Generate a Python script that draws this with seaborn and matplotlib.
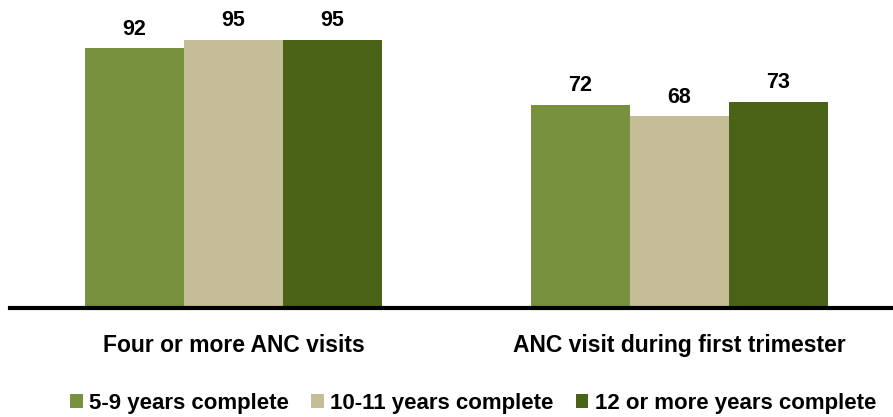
import pandas as pd
import numpy as np
import matplotlib.pyplot as plt
import seaborn as sns

categories = ["Four or more ANC visits", "ANC visit during first trimester"]
education = ["5-9 years complete", "10-11 years complete", "12 or more years complete"]
values = {
    "5-9 years complete": [92, 72],
    "10-11 years complete": [95, 68],
    "12 or more years complete": [95, 73],
}
colors = ["#77913F", "#C4BD97", "#4B6316"]

rows = []
for edu in education:
    for cat, v in zip(categories, values[edu]):
        rows.append({"indicator": cat, "education": edu, "pct": v})
df = pd.DataFrame(rows)

sns.set_style("white")
plt.rcParams["font.family"] = ["Liberation Sans", "DejaVu Sans"]
plt.rcParams["text.color"] = "black"
plt.rcParams["xtick.color"] = "black"

fig = plt.figure(figsize=(8.93, 4.17), dpi=100)
ax = fig.add_axes([0.0112, 0.2614, 0.9888, 0.7386])

sns.barplot(data=df, x="indicator", y="pct", hue="education",
            order=categories, hue_order=education, palette=colors,
            width=0.666, saturation=1, linewidth=0, ax=ax, legend=True)

for cont in ax.containers:
    ax.bar_label(cont, fmt="%d", padding=6, fontsize=15.5, fontweight="bold", color="black")

ax.set_ylim(0, 109)
ax.set_xlim(-0.501, 1.479)
ax.set_xlabel("")
ax.set_ylabel("")
ax.set_yticks([])
ax.tick_params(axis="x", length=0, pad=19)
for lbl in ax.get_xticklabels():
    lbl.set_fontsize(16.5)
    lbl.set_fontweight("bold")
    lbl.set_color("black")
for side in ["top", "right", "left"]:
    ax.spines[side].set_visible(False)
ax.spines["bottom"].set_linewidth(3)
ax.spines["bottom"].set_color("black")

handles, labels = ax.get_legend_handles_labels()
ax.get_legend().remove()
fig.legend(handles, labels, loc="center", bbox_to_anchor=(0.53, 0.033), ncol=3,
           frameon=False, prop={"size": 16, "weight": "bold"},
           handlelength=0.55, handleheight=0.55, handletextpad=0.3, columnspacing=1.0)

fig.savefig("out.png", dpi=100)
